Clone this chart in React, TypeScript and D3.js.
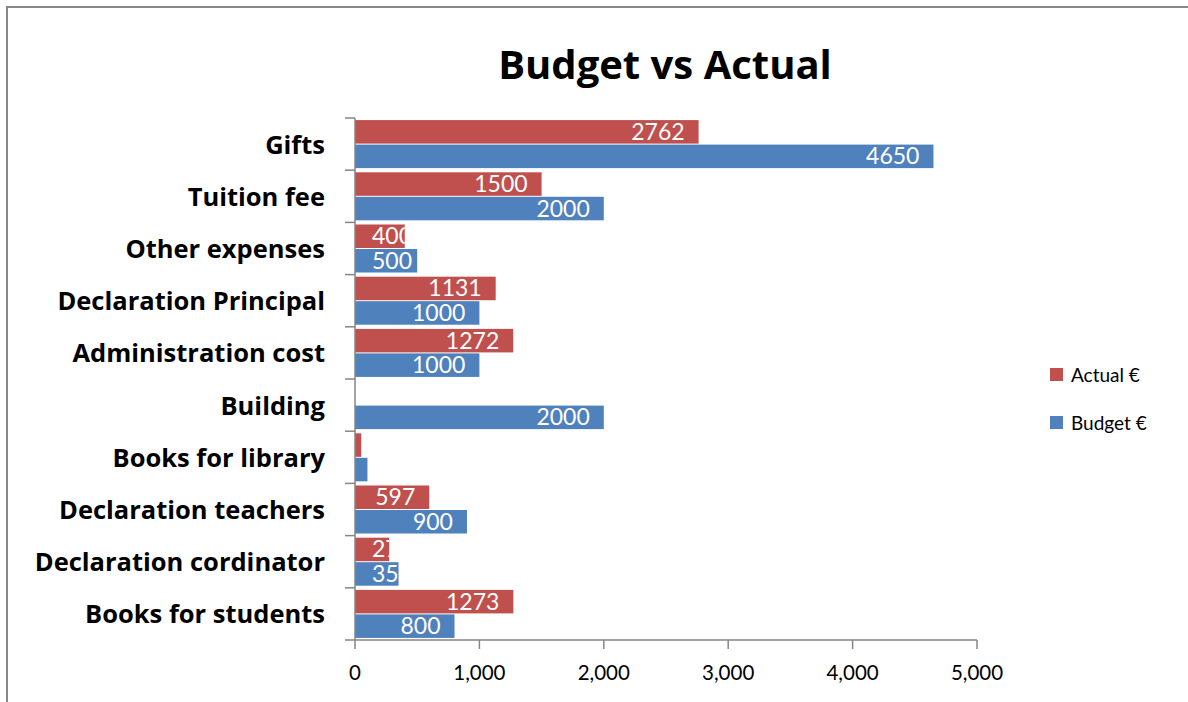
import React from "react";
import * as d3 from "d3";

const categories = [
  "Gifts",
  "Tuition fee",
  "Other expenses",
  "Declaration Principal",
  "Administration cost",
  "Building",
  "Books for library",
  "Declaration teachers",
  "Declaration cordinator",
  "Books for students",
];
const actual: (number | null)[] = [2762, 1500, 400, 1131, 1272, null, 50, 597, 275, 1273];
const budget: (number | null)[] = [4650, 2000, 500, 1000, 1000, 2000, 100, 900, 350, 800];
const xTicks = [0, 1000, 2000, 3000, 4000, 5000];
const seriesNames = ["Actual €", "Budget €"];
const seriesColors = ["#C0504D", "#4F81BD"];

const W = 1188;
const H = 702;
const left = 355;
const right = 977;
const top = 118;
const bottom = 640;
const FONT = "Lato, 'Open Sans', sans-serif";
const BOLD = "'Open Sans', Lato, sans-serif";

export default function App() {
  const x = d3.scaleLinear().domain([0, 5000]).range([left, right]);
  const y = d3.scaleBand<string>().domain(categories).range([top, bottom]).paddingInner(0.08).paddingOuter(0.04);
  const inner = d3.scaleBand<number>().domain([0, 1]).range([0, y.bandwidth()]).paddingInner(0.04);
  const series = [actual, budget];
  const fmt = d3.format(",");
  const step = (bottom - top) / categories.length;

  return (
    <svg width={W} height={H} style={{ position: "absolute", left: 0, top: 0, background: "#fff" }} fontFamily={FONT}>
      <defs>
        {categories.map((c, i) =>
          series.map((s, si) => {
            const v = s[i];
            if (v == null) return null;
            const y0 = (y(c) as number) + (inner(si) as number);
            return (
              <clipPath id={`clip-${i}-${si}`} key={`cp-${i}-${si}`}>
                <rect x={x(0)} y={y0} width={x(v) - x(0)} height={inner.bandwidth()} />
              </clipPath>
            );
          })
        )}
      </defs>
      <rect x={7} y={7} width={W + 10} height={H + 10} fill="#fff" stroke="#888" strokeWidth={2} />
      <text x={665} y={79} textAnchor="middle" fontSize={40} fontWeight="bold" fill="#000" fontFamily={BOLD}>
        Budget vs Actual
      </text>
      {/* bars */}
      {categories.map((c, i) =>
        series.map((s, si) => {
          const v = s[i];
          if (v == null) return null;
          const y0 = (y(c) as number) + (inner(si) as number);
          const bh = inner.bandwidth();
          const x1 = x(v);
          const label = String(v);
          const approxW = label.length * 13.5;
          let tx = x1 - 14;
          let anchor: "end" | "start" = "end";
          if (tx - approxW < 372) {
            tx = 372;
            anchor = "start";
          }
          const showLabel = x1 - 372 > 4;
          return (
            <g key={`b-${i}-${si}`}>
              <rect x={x(0)} y={y0} width={x1 - x(0)} height={bh} fill={seriesColors[si]} />
              {showLabel && (
                <text
                  x={tx}
                  y={y0 + bh / 2 + 8}
                  textAnchor={anchor}
                  fontSize={23}
                  fill="#fff"
                  clipPath={`url(#clip-${i}-${si})`}
                >
                  {label}
                </text>
              )}
            </g>
          );
        })
      )}
      {/* y axis */}
      <line x1={left} x2={left} y1={top} y2={bottom} stroke="#868686" strokeWidth={1.5} />
      {d3.range(categories.length + 1).map((k) => (
        <line key={`yt-${k}`} x1={left - 10} x2={left} y1={top + k * step} y2={top + k * step} stroke="#868686" strokeWidth={1.5} />
      ))}
      {categories.map((c) => (
        <text
          key={`yl-${c}`}
          x={325}
          y={(y(c) as number) + y.bandwidth() / 2 + 9.5}
          textAnchor="end"
          fontSize={25.5}
          fontWeight="bold"
          fill="#000"
          fontFamily={BOLD}
        >
          {c}
        </text>
      ))}
      {/* x axis */}
      <line x1={left} x2={right} y1={bottom} y2={bottom} stroke="#868686" strokeWidth={1.5} />
      {xTicks.map((t) => (
        <g key={`xt-${t}`}>
          <line x1={x(t)} x2={x(t)} y1={bottom} y2={bottom + 9} stroke="#868686" strokeWidth={1.5} />
          <text x={x(t)} y={680} textAnchor="middle" fontSize={20.5} fill="#000">
            {fmt(t)}
          </text>
        </g>
      ))}
      {/* legend */}
      {seriesNames.map((n, i) => (
        <g key={`lg-${n}`} transform={`translate(1050, ${368 + i * 48})`}>
          <rect x={0} y={0} width={13} height={13} fill={seriesColors[i]} />
          <text x={21} y={14} fontSize={19} fill="#000">
            {n}
          </text>
        </g>
      ))}
    </svg>
  );
}
